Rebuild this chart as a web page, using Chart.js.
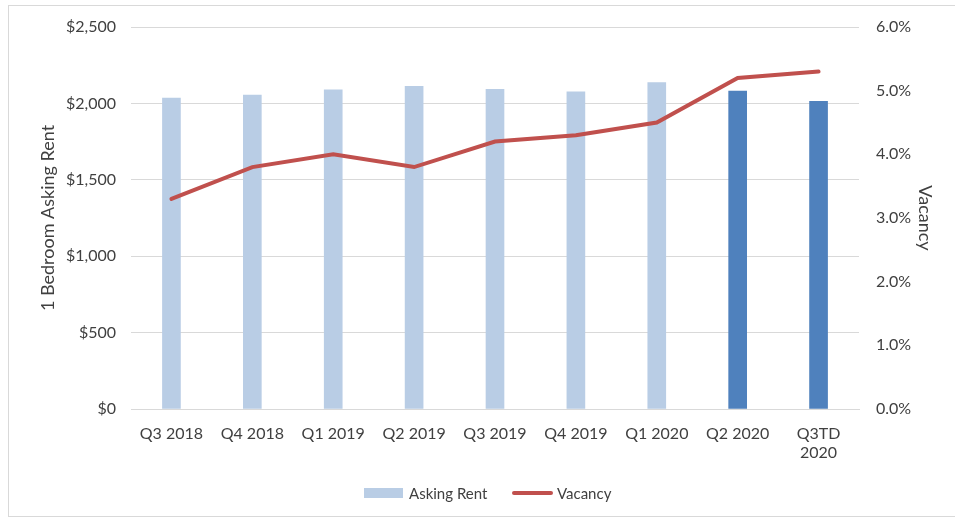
<!DOCTYPE html>
<html>
<head>
<meta charset="utf-8">
<script src="https://cdn.jsdelivr.net/npm/chart.js@4/dist/chart.umd.min.js"></script>
<style>
  body { margin: 0; background: #fff; }
  #frame { position: absolute; left: 8px; top: 5px; width: 960px; height: 510px; border: 1px solid #d9d9d9; }
  #rent { position: absolute; left: 0; top: 0; }
  .leg { position: absolute; top: 483px; font: 15px Lato, sans-serif; color: #404040; line-height: 20px; }
  .sw { position: absolute; }
</style>
</head>
<body>
<div id="frame"></div>
<canvas id="rent" width="955" height="521"></canvas>
<div class="sw" style="left:364px;top:488px;width:39px;height:10px;background:#b9cde5"></div>
<div class="leg" style="left:409px">Asking Rent</div>
<div class="sw" style="left:512px;top:491px;width:41px;height:4px;background:#c0504d;border-radius:2px"></div>
<div class="leg" style="left:557px">Vacancy</div>
<script>
// quarters, last one is quarter-to-date
var quarters = ['Q3 2018','Q4 2018','Q1 2019','Q2 2019','Q3 2019','Q4 2019','Q1 2020','Q2 2020',['Q3TD','2020']]
var askingRent = [2035, 2055, 2088, 2112, 2092, 2075, 2136, 2081, 2014]
var vacancy = [3.3, 3.8, 4.0, 3.8, 4.2, 4.3, 4.5, 5.2, 5.3]
var rentTicks = [0, 500, 1000, 1500, 2000, 2500]
var vacTicks = [0, 1, 2, 3, 4, 5, 6]
var firstCovid = 7 // bars from Q2 2020 on are darker

var lbl = { family: 'Lato, sans-serif', size: 16 }
var ttl = { family: 'Lato, sans-serif', size: 18 }

let ctx = document.getElementById('rent').getContext('2d');

let rentChart = new Chart(ctx, {
  data: {
    labels: quarters,
    datasets: [{
      type: 'line',
      label: 'Vacancy',
      data: vacancy,
      yAxisID: 'yVac',
      borderColor: '#c0504d',
      borderWidth: 4,
      borderCapStyle: 'round',
      pointRadius: 0,
      tension: 0,
      order: 0
    }, {
      type: 'bar',
      label: 'Asking Rent',
      data: askingRent,
      yAxisID: 'yRent',
      backgroundColor: c => c.dataIndex < firstCovid ? '#b9cde5' : '#4f81bd',
      barThickness: 18,
      order: 1
    }]
  },
  options: {
    responsive: false,
    animation: false,
    devicePixelRatio: 1,
    layout: { padding: { top: 27, right: 0, bottom: 0, left: 0 } },
    plugins: { legend: { display: false }, tooltip: { enabled: false } },
    scales: {
      x: {
        grid: { display: false, drawTicks: false },
        border: { display: true, color: '#d9d9d9' },
        ticks: { color: '#404040', font: lbl, padding: 15, maxRotation: 0, autoSkip: false },
        afterFit: s => { s.height = 112 }
      },
      yRent: {
        position: 'left',
        min: 0, max: 2500,
        afterBuildTicks: s => { s.ticks = rentTicks.map(v => ({ value: v })) },
        grid: { color: '#d9d9d9', drawTicks: false },
        border: { display: false },
        ticks: { color: '#404040', font: lbl, padding: 15, callback: v => '$' + v.toLocaleString('en-US') },
        title: { display: true, text: '1 Bedroom Asking Rent', color: '#404040', font: ttl, padding: { top: 37, bottom: 0 } },
        afterFit: s => { s.width = 131 }
      },
      yVac: {
        position: 'right',
        min: 0, max: 6,
        afterBuildTicks: s => { s.ticks = vacTicks.map(v => ({ value: v })) },
        grid: { display: false, drawTicks: false },
        border: { display: false },
        ticks: { color: '#404040', font: lbl, padding: 17, callback: v => v.toFixed(1) + '%' },
        title: { display: true, text: 'Vacancy', color: '#404040', font: ttl, padding: { top: 19, bottom: 0 } },
        afterFit: s => { s.width = 96 }
      }
    }
  }
});
</script>
</body>
</html>
